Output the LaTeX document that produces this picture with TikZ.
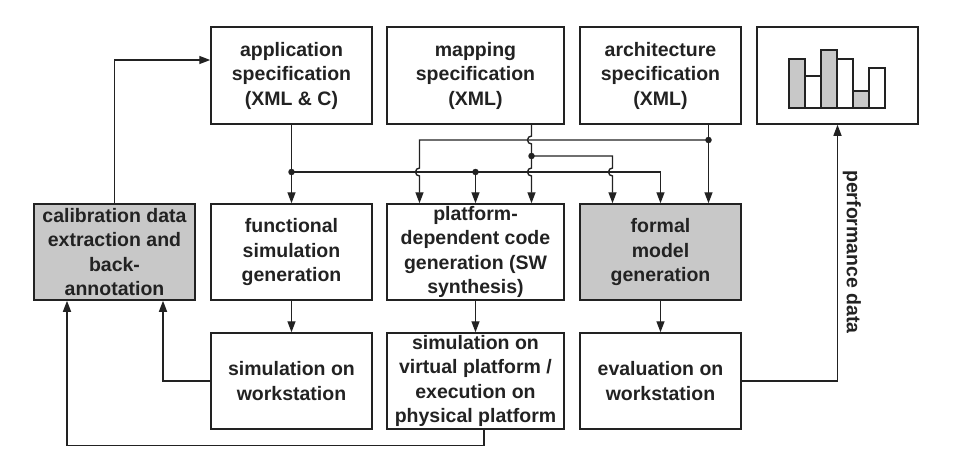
\documentclass[tikz,border=0pt]{standalone}
\usepackage{fontspec}
\setmainfont{Liberation Sans}
\usetikzlibrary{arrows.meta}
\definecolor{boxgray}{HTML}{C8C8C8}
\definecolor{ink}{HTML}{222222}
\begin{document}
\begin{tikzpicture}[x=1pt,y=1pt,
 box/.style={draw=ink, line width=1.5pt, inner sep=0pt, align=center,
   font=\bfseries\fontsize{19.5}{24.5}\selectfont, text=ink},
 wbox/.style={box, fill=white},
 gbox/.style={box, fill=boxgray},
 sbox/.style={minimum width=161pt, minimum height=97pt},
 lbox/.style={minimum width=177pt, minimum height=97pt},
 conn/.style={draw=ink, line width=1.4pt},
 arr/.style={conn, -{Triangle[length=11pt,width=8pt]}},
 dot/.style={circle, fill=ink, inner sep=0pt, minimum size=6.5pt},
 lbl/.style={font=\bfseries\fontsize{19.5}{24.5}\selectfont, text=ink}]
\useasboundingbox (0,0) rectangle (964,-467);
% top row
\node[wbox, sbox] (app) at (291.5,-75.5) {application\\specification\\(XML \& C)};
\node[wbox, lbox] (map) at (475.5,-75.5) {mapping\\specification\\(XML)};
\node[wbox, sbox] (arch) at (660.5,-75.5) {architecture\\specification\\(XML)};
\node[wbox, sbox] (chart) at (837.5,-75.5) {};
% middle row
\node[gbox, sbox, minimum height=96pt] (calib) at (114.5,-252) {calibration data\\extraction and\\back-\\annotation};
\node[wbox, sbox, minimum height=96pt] (func) at (291.5,-252) {functional\\simulation\\generation};
\node[wbox, lbox, minimum height=96pt] (plat) at (475.5,-252) {platform-\\dependent code\\generation (SW\\synthesis)};
\node[gbox, sbox, minimum height=96pt] (formal) at (660.5,-252) {formal\\model\\generation};
% bottom row
\node[wbox, sbox, minimum height=96pt] (simws) at (291.5,-381) {simulation on\\workstation};
\node[wbox, lbox, minimum height=96pt] (virt) at (475.5,-381) {simulation on\\virtual platform /\\execution on\\physical platform};
\node[wbox, sbox, minimum height=96pt] (eval) at (660.5,-381) {evaluation on\\workstation};
% chart bars
\foreach \i/\t/\f in {0/59/boxgray,1/76/white,2/50/boxgray,3/59/white,4/91/boxgray,5/68/white}
  \draw[draw=ink, line width=1.3pt, fill=\f] (789+16*\i,-108) rectangle (805+16*\i,-\t);
% junction dots
\node[dot] (d1) at (291.5,-172) {};
\node[dot] (d3) at (475.5,-172) {};
\node[dot] (d2) at (708.5,-140) {};
\node[dot] (d4) at (531.5,-156) {};
% wiring
\draw[arr] (app.south) -- (func.north);
\draw[conn] (d1.center) -- (d3.center);
\draw[arr] (d3.center) -- (plat.north);
\draw[arr] (d3.center) -| (formal.north);
\draw[arr] ([xshift=48pt]arch.south) -- ([xshift=48pt]formal.north);
\draw[arr] ([xshift=56pt]map.south) -- (531.5,-136) arc[start angle=90,end angle=270,radius=4]
   -- (531.5,-168) arc[start angle=90,end angle=270,radius=4] -- ([xshift=56pt]plat.north);
\draw[arr] (d2.center) -- (419.5,-140) -- (419.5,-168) arc[start angle=90,end angle=270,radius=4]
   -- ([xshift=-56pt]plat.north);
\draw[arr] (d4.center) -- (612.5,-156) -- (612.5,-168) arc[start angle=90,end angle=270,radius=4]
   -- ([xshift=-48pt]formal.north);
\draw[arr] (func.south) -- (simws.north);
\draw[arr] (plat.south) -- (virt.north);
\draw[arr] (formal.south) -- (eval.north);
% feedback
\draw[arr] (calib.north) |- ([yshift=15.5pt]app.west);
\draw[arr] (simws.west) -| ([xshift=48.5pt]calib.south);
\draw[arr] ([xshift=8.5pt]virt.south) |- ([xshift=-47.5pt,yshift=-145pt]calib.south) -- ([xshift=-47.5pt]calib.south);
\draw[arr] (eval.east) -| (chart.south);
\node[lbl, rotate=-90] (perf) at (852,-252) {performance data};
\end{tikzpicture}
\end{document}
